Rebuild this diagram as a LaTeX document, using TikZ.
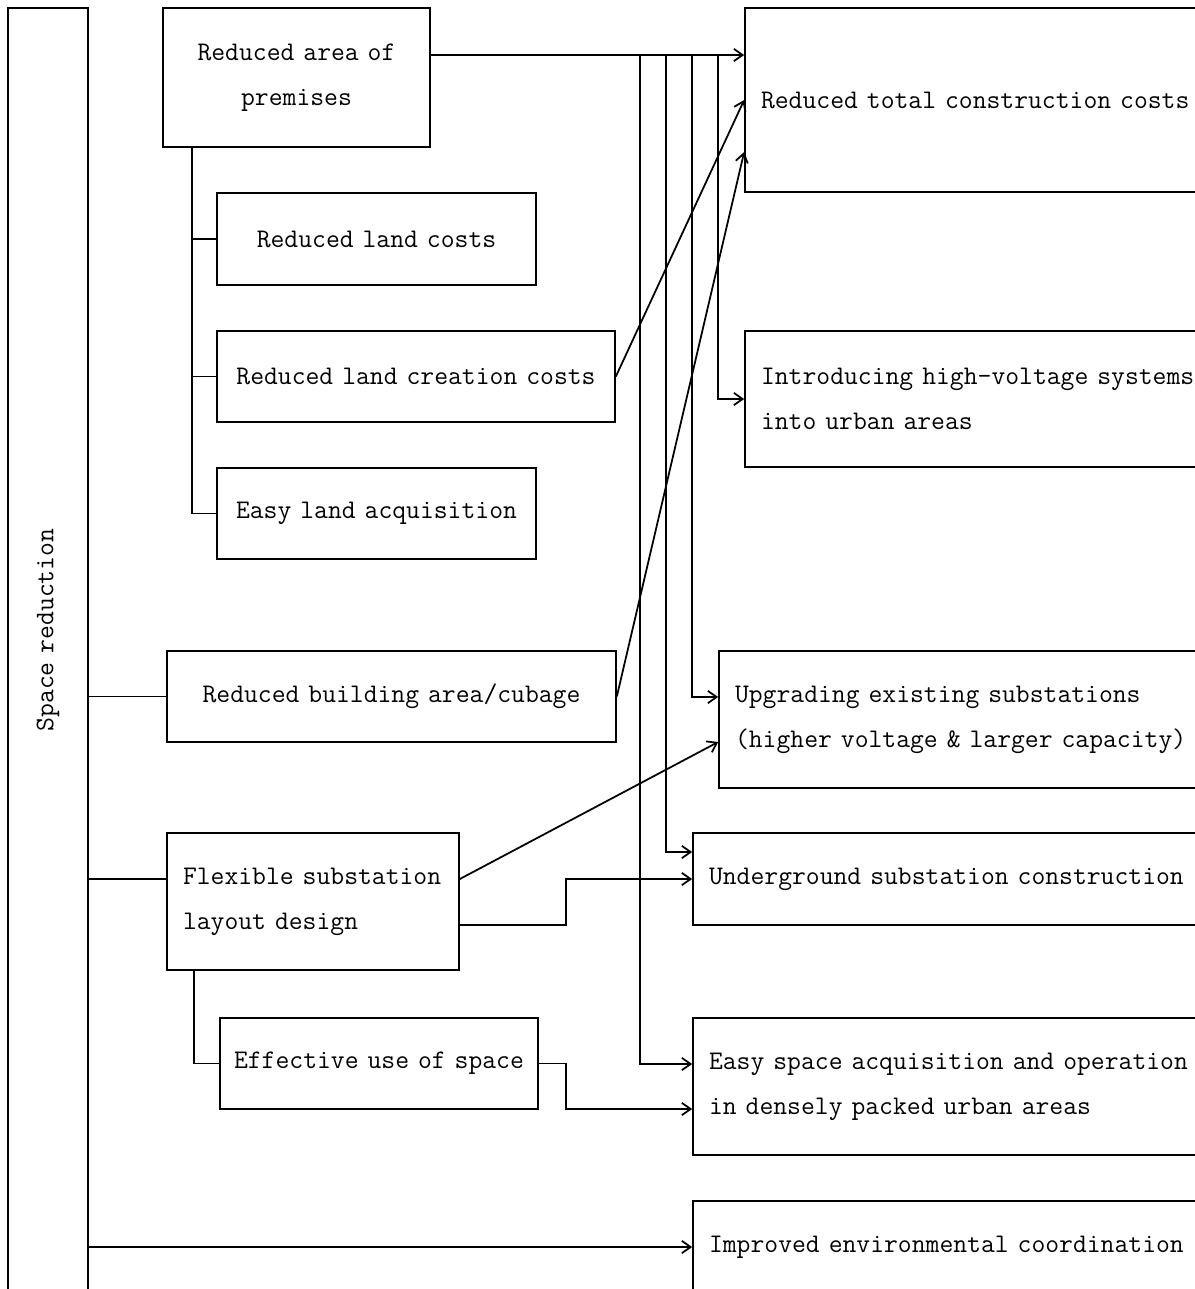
\documentclass[tikz,border=0pt]{standalone}
\usetikzlibrary{arrows.meta}
\newcommand{\boxfont}{\ttfamily\fontsize{15.3}{25.5}\selectfont
  \spaceskip=.3333em\relax\xspaceskip=\spaceskip}

\begin{document}
\begin{tikzpicture}[x=0.02cm,y=-0.02cm,line width=1pt,
    >={Straight Barb[length=5pt,width=7pt]},
    box/.style={draw,inner sep=0pt,align=center,font=\boxfont},
    lbox/.style={box,align=left,inner xsep=0.32cm}]

  \useasboundingbox (0,0) rectangle (1195,1289);

  % left column
  \node[box,minimum width=1.6cm,minimum height=26.2cm] (space) at (48,663) {};
  \node[rotate=90,font=\boxfont] (spacetxt) at (48,630) {Space reduction};

  \node[box,minimum width=5.34cm,minimum height=2.78cm] (premises) at (296.5,77.5) {Reduced area of\\premises};
  \node[box,minimum width=6.38cm,minimum height=1.84cm] (landcost) at (376.5,239) {Reduced land costs};
  \node[box,minimum width=7.96cm,minimum height=1.82cm] (creation) at (416,376.5) {Reduced land creation costs};
  \node[box,minimum width=6.38cm,minimum height=1.82cm] (acquis) at (376.5,513.5) {Easy land acquisition};
  \node[box,minimum width=8.98cm,minimum height=1.82cm] (building) at (391.5,696.5) {Reduced building area/cubage};
  \node[lbox,text width=5.2cm,minimum height=2.74cm] (flexible) at (313,901.5) {Flexible substation\\layout design};
  \node[box,minimum width=6.36cm,minimum height=1.82cm] (effective) at (379,1063.5) {Effective use of space};

  % right column
  \node[lbox,text width=9.26cm,minimum height=3.68cm] (totalcost) at (992.5,100) {Reduced total construction costs};
  \node[lbox,text width=9.26cm,minimum height=2.72cm] (highvolt) at (992.5,399) {Introducing high-voltage systems\\into urban areas};
  \node[lbox,text width=9.78cm,minimum height=2.74cm] (upgrade) at (979.5,719.5) {Upgrading existing substations\\(higher voltage \& larger capacity)};
  \node[lbox,text width=10.3cm,minimum height=1.84cm] (underground) at (966.5,879) {Underground substation construction};
  \node[lbox,text width=10.3cm,minimum height=2.74cm] (urban) at (966.5,1086.5) {Easy space acquisition and operation\\in densely packed urban areas};
  \node[lbox,text width=10.3cm,minimum height=1.84cm] (environment) at (966.5,1247) {Improved environmental coordination};

  % bus from the premises box
  \coordinate (d1) at (640,55);
  \coordinate (d2) at (666,55);
  \coordinate (d3) at (692,55);
  \coordinate (d4) at (718,55);
  \draw[->] ([yshift=0.45cm]premises.east) -- ([yshift=0.9cm]totalcost.west);
  \draw[->] (d1) |- ([yshift=0.45cm]urban.west);
  \draw[->] (d2) |- ([yshift=0.54cm]underground.west);
  \draw[->] (d3) |- ([yshift=0.45cm]upgrade.west);
  \draw[->] (d4) |- (highvolt.west);

  % tree under the premises box
  \draw ([xshift=0.6cm]premises.south west) |- (acquis.west);
  \draw (landcost.west) -- ++(-24,0);
  \draw (creation.west) -- ++(-24,0);

  % diagonals
  \draw[->] (creation.east) -- (totalcost.west);
  \draw[->] (building.east) -- ([yshift=-1.04cm]totalcost.west);
  \draw[->] ([yshift=0.45cm]flexible.east) -- ([yshift=-0.45cm]upgrade.west);

  % flexible layout
  \draw[->] ([yshift=-0.47cm]flexible.east) -- ++(106,0) |- (underground.west);
  \draw ([xshift=0.56cm]flexible.south west) |- (effective.west);
  \draw[->] (effective.east) -- ++(27,0) |- ([yshift=-0.45cm]urban.west);

  % from space reduction
  \coordinate (flexin) at ([yshift=0.45cm]flexible.west);
  \draw (space.east |- building.west) -- (building.west);
  \draw (space.east |- flexin) -- (flexin);
  \draw[->] (space.east |- environment.west) -- (environment.west);

\end{tikzpicture}
\end{document}
